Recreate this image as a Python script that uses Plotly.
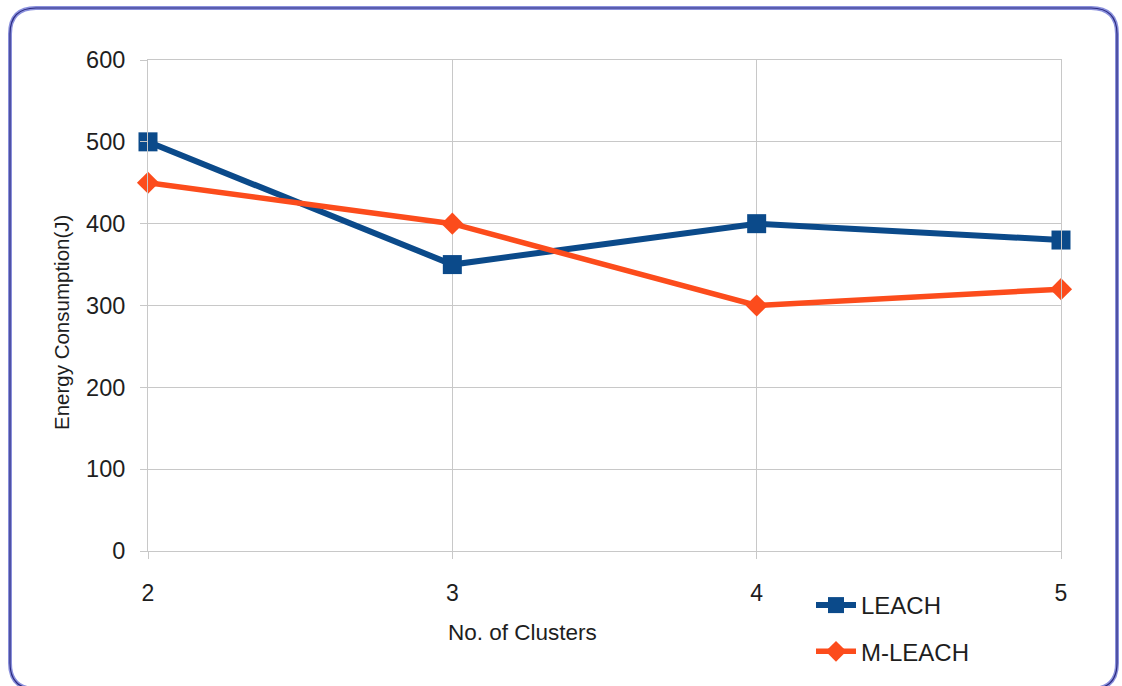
import plotly.graph_objects as go

# Energy consumption by number of clusters
clusters = [2, 3, 4, 5]
leach = [500, 350, 400, 380]
m_leach = [450, 400, 300, 320]
y_ticks = [0, 100, 200, 300, 400, 500, 600]

W, H = 1122, 686
L, R, T, B = 148, 61, 60, 135
PW, PH = W - L - R, H - T - B

FONT = "Liberation Sans, Arial, sans-serif"
GRID = "#c8c8c8"
TEXT = "#1e1e1e"

fig = go.Figure()
fig.add_trace(go.Scatter(
    x=clusters, y=leach, name="LEACH", mode="lines+markers", legendgroup="a",
    line=dict(color="#0b4a8a", width=6),
    marker=dict(symbol="square", size=19, color="#0b4a8a"),
    cliponaxis=False,
))
fig.add_trace(go.Scatter(
    x=clusters, y=m_leach, name="M-LEACH", mode="lines+markers", legendgroup="b",
    line=dict(color="#fc4c1c", width=5.5),
    marker=dict(symbol="diamond", size=17, color="#fc4c1c"),
    cliponaxis=False,
))


def px(x, y):
    """Convert pixel position to paper coordinates."""
    return (x - L) / PW, (H - B - y) / PH


def rounded_rect(x0, y0, x1, y1, r):
    pts = []
    a = px(x0 + r, y0); pts.append(f"M{a[0]},{a[1]}")
    a = px(x1 - r, y0); pts.append(f"L{a[0]},{a[1]}")
    c = px(x1, y0); e = px(x1, y0 + r); pts.append(f"Q{c[0]},{c[1]} {e[0]},{e[1]}")
    a = px(x1, y1 - r); pts.append(f"L{a[0]},{a[1]}")
    c = px(x1, y1); e = px(x1 - r, y1); pts.append(f"Q{c[0]},{c[1]} {e[0]},{e[1]}")
    a = px(x0 + r, y1); pts.append(f"L{a[0]},{a[1]}")
    c = px(x0, y1); e = px(x0, y1 - r); pts.append(f"Q{c[0]},{c[1]} {e[0]},{e[1]}")
    a = px(x0, y0 + r); pts.append(f"L{a[0]},{a[1]}")
    c = px(x0, y0); e = px(x0 + r, y0); pts.append(f"Q{c[0]},{c[1]} {e[0]},{e[1]}")
    return " ".join(pts) + " Z"


frame = rounded_rect(10, 8, 1117, 689, 26)
fig.add_shape(type="path", path=frame, xref="paper", yref="paper",
              line=dict(color="#8a90dc", width=4), layer="below")
fig.add_shape(type="path", path=frame, xref="paper", yref="paper",
              line=dict(color="#2a2a80", width=1.2), layer="below")

fig.add_annotation(text="No. of Clusters", xref="paper", yref="paper",
                   x=px(522, 0)[0], y=px(0, 632)[1], showarrow=False,
                   xanchor="center", yanchor="middle",
                   font=dict(family=FONT, size=22.5, color=TEXT))
fig.add_annotation(text="Energy Consumption(J)", xref="paper", yref="paper",
                   x=px(61, 0)[0], y=px(0, 323)[1], showarrow=False, textangle=-90,
                   xanchor="center", yanchor="middle",
                   font=dict(family=FONT, size=20.5, color=TEXT))

fig.update_layout(
    width=W, height=H,
    margin=dict(l=L, r=R, t=T, b=B, autoexpand=False),
    paper_bgcolor="white", plot_bgcolor="white",
    font=dict(family=FONT, color=TEXT),
    showlegend=True,
    legend=dict(
        x=px(811, 0)[0], y=px(0, 583)[1], xanchor="left", yanchor="top",
        font=dict(family=FONT, size=24, color=TEXT),
        bgcolor="rgba(0,0,0,0)", traceorder="grouped", tracegroupgap=12,
        itemwidth=40,
    ),
    xaxis=dict(
        range=[2, 5], tickvals=clusters, showgrid=True, gridcolor=GRID, gridwidth=1,
        zeroline=False, showline=True, linecolor=GRID, linewidth=1, mirror=True,
        ticks="outside", ticklen=7, tickcolor=GRID,
        ticklabelstandoff=14, tickfont=dict(size=23, family=FONT, color=TEXT),
    ),
    yaxis=dict(
        range=[0, 600], tickvals=y_ticks, showgrid=True, gridcolor=GRID, gridwidth=1,
        zeroline=False, showline=True, linecolor=GRID, linewidth=1, mirror=True,
        ticks="outside", ticklen=7, tickcolor=GRID,
        ticklabelstandoff=10, tickfont=dict(size=23.5, family=FONT, color=TEXT),
    ),
)

fig.write_html("out.html")
